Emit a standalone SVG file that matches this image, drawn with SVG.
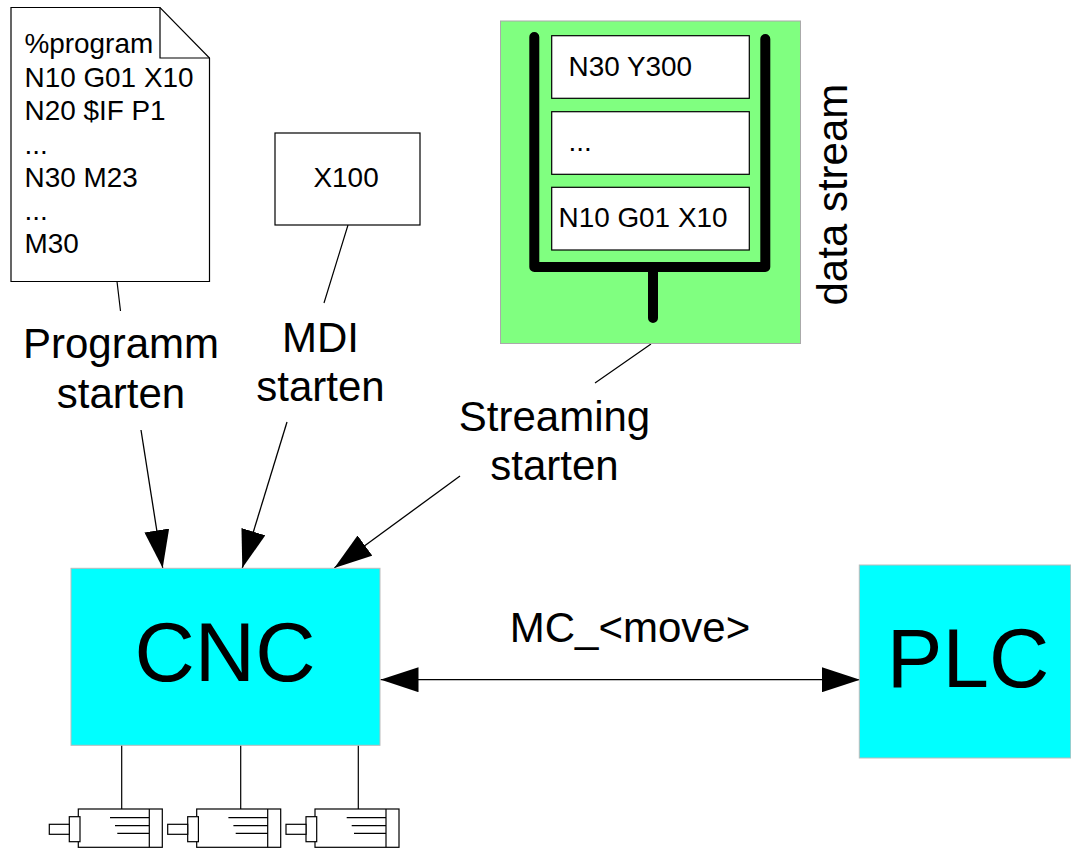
<svg xmlns="http://www.w3.org/2000/svg" xmlns:xlink="http://www.w3.org/1999/xlink" width="1071" height="850" viewBox="0 0 1071 850">
<style>
text{font-family:"Liberation Sans",Arial,sans-serif;fill:#000}
.s{font-size:27.9px}
.m{font-size:42px;text-anchor:middle}
.b{font-size:83.5px;text-anchor:middle}
.box{fill:#fff;stroke:#000;stroke-width:1.2}
.cyan{fill:#0ff;stroke:#bbb;stroke-width:1}
.ln{fill:none;stroke:#000;stroke-width:1.2}
.arr{fill:none;stroke:#000;stroke-width:1.3;marker-end:url(#ah)}
.thick{fill:none;stroke:#000;stroke-width:10;stroke-linecap:round;stroke-linejoin:round}
</style>
<defs>
<marker id="ah" markerUnits="userSpaceOnUse" viewBox="0 0 38 25" refX="38" refY="12.5" markerWidth="38" markerHeight="25" orient="auto-start-reverse"><path d="M0 0L38 12.5L0 25Z" fill="#000"/></marker>
<g id="motor">
<rect class="box" x="78.3" y="809" width="84" height="38.3"/>
<path class="ln" d="M149.3 809V847.3M110 817.7H149.3M115 825.7H149.3M117.3 833.3H149.3"/>
<rect class="box" x="69.3" y="816.7" width="10.7" height="25"/>
<rect class="box" x="49.3" y="824.3" width="20" height="10"/>
</g>
</defs>
<g id="connectors">
<path class="ln" d="M117 281.5L120.5 311M348 225L324 303M651 344L595 383M121.7 745V809M240.7 745V809M358.3 745V809"/>
<path class="arr" d="M141 430L162.7 568"/>
<path class="arr" d="M287 422L242.3 568"/>
<path class="arr" d="M460 476L334.3 568"/>
<path class="arr" style="marker-start:url(#ah)" d="M380.5 679.7H860"/>
</g>
<g id="program">
<path class="box" d="M11 7.5H160L209.5 58V281.5H11Z"/>
<path class="ln" d="M160 7.5V58H209.5"/>
<text class="s" x="24.5" y="53">%program</text>
<text class="s" x="24.5" y="86.5">N10 G01 X10</text>
<text class="s" x="24.5" y="120">N20 $IF P1</text>
<text class="s" x="24.5" y="153.5">...</text>
<text class="s" x="24.5" y="186.5">N30 M23</text>
<text class="s" x="24.5" y="220">...</text>
<text class="s" x="24.5" y="253">M30</text>
</g>
<g id="mdi">
<rect class="box" x="275" y="133" width="145" height="92"/>
<text class="s" x="313.5" y="187">X100</text>
</g>
<g id="stream">
<rect x="500.5" y="21" width="300" height="322.5" fill="#80ff80" stroke="#aaa" stroke-width="1"/>
<rect class="box" x="551.7" y="35.7" width="197.6" height="62.6"/>
<rect class="box" x="551.7" y="111.7" width="197.6" height="62.6"/>
<rect class="box" x="551.7" y="187.3" width="197.6" height="62.7"/>
<path class="thick" d="M534.3 37V267H765.3V39M653 267V318"/>
<text class="s" x="568.5" y="75.7">N30 Y300</text>
<text class="s" x="568.5" y="150.7">...</text>
<text class="s" x="558.5" y="226.7">N10 G01 X10</text>
</g>
<g id="data-stream-label"><text font-size="42" transform="translate(847 305.5) rotate(-90)">data stream</text></g>
<g id="label-programm"><text class="m" x="121" y="358">Programm</text><text class="m" x="121" y="408">starten</text></g>
<g id="label-mdi"><text class="m" x="320.5" y="352">MDI</text><text class="m" x="320.5" y="401">starten</text></g>
<g id="label-streaming"><text class="m" x="554.5" y="431">Streaming</text><text class="m" x="554.5" y="480">starten</text></g>
<g id="label-mc"><text class="m" x="630" y="642">MC_&lt;move&gt;</text></g>
<g id="cnc"><rect class="cyan" x="71" y="568.3" width="309" height="177"/><text class="b" x="225" y="681">CNC</text></g>
<g id="plc"><rect class="cyan" x="859.3" y="565" width="211.5" height="193"/><text class="b" x="968" y="687">PLC</text></g>
<g id="motor1"><use href="#motor"/></g>
<g id="motor2"><use href="#motor" x="118.4"/></g>
<g id="motor3"><use href="#motor" x="236.7"/></g>
</svg>
